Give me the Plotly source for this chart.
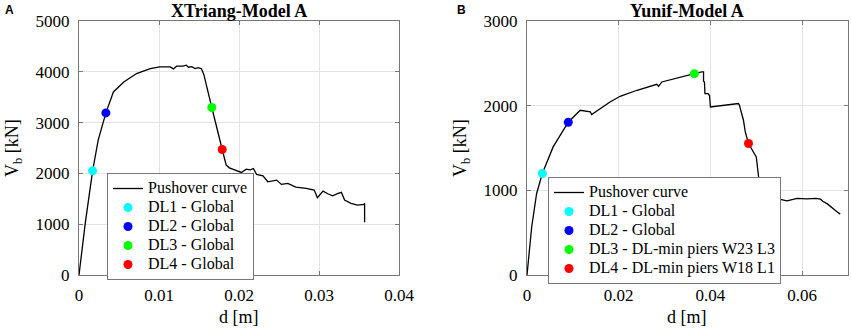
import plotly.graph_objects as go

# ---------------- Data ----------------
# Panel A: XTriang-Model A
a_d = [0, 0.00078, 0.0017, 0.0024, 0.00336, 0.0043, 0.0056, 0.0072, 0.0089, 0.0101,
       0.0114, 0.0118, 0.0122, 0.0130, 0.0134, 0.0137, 0.0141, 0.0145, 0.0149, 0.0153,
       0.0156, 0.0159, 0.0166, 0.0179, 0.0184, 0.0188, 0.0197, 0.0203, 0.0209, 0.0214,
       0.0218, 0.0222, 0.0230, 0.0236, 0.0247, 0.0253, 0.0261, 0.0271, 0.0284, 0.0294,
       0.0298, 0.0305, 0.0311, 0.0317, 0.0323, 0.0328, 0.0332, 0.0340, 0.0348, 0.0356,
       0.0357, 0.0357]
a_v = [0, 1016, 2051, 2654, 3191, 3604, 3801, 3966, 4064, 4096,
       4096, 4057, 4110, 4110, 4129, 4090, 4100, 4064, 4083, 4060,
       3950, 3769, 3297, 2471, 2163, 2110, 2064, 2019, 2084, 2070,
       2097, 1979, 1953, 1835, 1868, 1783, 1803, 1730, 1704, 1671,
       1520, 1652, 1599, 1559, 1600, 1626, 1474, 1409, 1376, 1390,
       1410, 1036]
a_dl_d = [0.0017, 0.00336, 0.0166, 0.0179]
a_dl_v = [2051, 3191, 3297, 2471]
a_dl_names = ["DL1 - Global", "DL2 - Global", "DL3 - Global", "DL4 - Global"]

# Panel B: Yunif-Model A
b_d = [0, 0.00066, 0.00103, 0.0021, 0.00334, 0.0057, 0.0090, 0.0116, 0.0127, 0.0133,
       0.0138, 0.0141, 0.0159, 0.0181, 0.0203, 0.0240, 0.0283, 0.0287, 0.0294, 0.0334,
       0.0365, 0.0381, 0.0385, 0.0385, 0.0387, 0.0388, 0.0395, 0.0398, 0.0399, 0.0400,
       0.0461, 0.0463, 0.0472, 0.0476, 0.0483, 0.0491, 0.0500, 0.0505, 0.0512, 0.0520,
       0.0525, 0.0528, 0.0531, 0.0534, 0.0550, 0.0567, 0.0589, 0.0610, 0.0630, 0.0640,
       0.0645, 0.0655, 0.0662, 0.0676, 0.0683]
b_v = [0, 334, 570, 963, 1199, 1513, 1804, 1946, 1938, 1930,
       1926, 1895, 1966, 2044, 2111, 2182, 2252, 2229, 2280, 2339,
       2378, 2398, 2398, 2290, 2280, 2143, 2143, 2120, 1985, 1985,
       2025, 2010, 1828, 1690, 1553, 1474, 1395, 1159, 1070, 1010,
       982, 845, 943, 923, 895, 876, 904, 900, 906, 895,
       870, 840, 806, 747, 719]
b_dl_d = [0.00334, 0.0090, 0.0365, 0.0483]
b_dl_v = [1199, 1804, 2378, 1553]
b_dl_names = ["DL1 - Global", "DL2 - Global", "DL3 - DL-min piers W23 L3", "DL4 - DL-min piers W18 L1"]

curve_name = "Pushover curve"
dl_colors = ["#00FFFF", "#0000FF", "#00FF00", "#FF0000"]

a_xticks = [0, 0.01, 0.02, 0.03, 0.04]
a_xtext = ["0", "0.01", "0.02", "0.03", "0.04"]
a_yticks = [0, 1000, 2000, 3000, 4000, 5000]
b_xticks = [0, 0.02, 0.04, 0.06]
b_xtext = ["0", "0.02", "0.04", "0.06"]
b_yticks = [0, 1000, 2000, 3000]

titles = ["XTriang-Model A", "Yunif-Model A"]
panel_letters = ["A", "B"]

# ---------------- Figure ----------------
W, H = 851, 330
serif = "Liberation Serif"


def px(sx):
    return sx / W


def py(sy):
    return 1 - sy / H


def leg(t):
    return "<span style='font-size:16px'>%s</span>" % t


fig = go.Figure()

fig.add_trace(go.Scatter(x=a_d, y=a_v, mode="lines", name=leg(curve_name),
                         line=dict(color="black", width=1.3), xaxis="x", yaxis="y",
                         legend="legend"))
for d, v, n, c in zip(a_dl_d, a_dl_v, a_dl_names, dl_colors):
    fig.add_trace(go.Scatter(x=[d], y=[v], mode="markers", name=leg(n),
                             marker=dict(color=c, size=9), xaxis="x", yaxis="y",
                             legend="legend"))

fig.add_trace(go.Scatter(x=b_d, y=b_v, mode="lines", name=leg(curve_name),
                         line=dict(color="black", width=1.3), xaxis="x2", yaxis="y2",
                         legend="legend2"))
for d, v, n, c in zip(b_dl_d, b_dl_v, b_dl_names, dl_colors):
    fig.add_trace(go.Scatter(x=[d], y=[v], mode="markers", name=leg(n),
                             marker=dict(color=c, size=9), xaxis="x2", yaxis="y2",
                             legend="legend2"))

yd = [py(275), py(21)]
axis_common = dict(showgrid=True, gridcolor="#e3e3e3", gridwidth=1,
                   showline=True, linecolor="#777777", linewidth=1, mirror="ticks",
                   ticks="inside", ticklen=4, tickcolor="#777777",
                   tickfont=dict(family=serif, size=17, color="black"),
                   zeroline=False, automargin=False, ticklabelstandoff=5)

legend_common = dict(xanchor="left", yanchor="top",
                     bgcolor="white", bordercolor="#777777", borderwidth=1,
                     font=dict(family=serif, size=11.5, color="black"),
                     itemwidth=30, tracegroupgap=0)

fig.update_layout(
    width=W, height=H,
    margin=dict(l=0, r=0, t=0, b=0, pad=0, autoexpand=False),
    paper_bgcolor="white", plot_bgcolor="white",
    xaxis=dict(domain=[px(79), px(399)], range=[0, 0.04], tickvals=a_xticks,
               ticktext=a_xtext, anchor="y", **axis_common),
    yaxis=dict(domain=yd, range=[0, 5000], tickvals=a_yticks, anchor="x", **axis_common),
    xaxis2=dict(domain=[px(527), px(848)], range=[0, 0.07], tickvals=b_xticks,
                ticktext=b_xtext, anchor="y2", **axis_common),
    yaxis2=dict(domain=yd, range=[0, 3000], tickvals=b_yticks, anchor="x2", **axis_common),
    legend=dict(x=px(107), y=py(173), **legend_common),
    legend2=dict(x=px(548), y=py(177), **legend_common),
    showlegend=True,
)

ann = []
for t, cx in zip(titles, [239, 687]):
    ann.append(dict(text="<b>%s</b>" % t, x=px(cx), y=py(11), xref="paper", yref="paper",
                    showarrow=False, xanchor="center", yanchor="middle",
                    font=dict(family=serif, size=18, color="black")))
for t, lx in zip(panel_letters, [9, 461]):
    ann.append(dict(text="<b>%s</b>" % t, x=px(lx), y=py(10), xref="paper", yref="paper",
                    showarrow=False, xanchor="center", yanchor="middle",
                    font=dict(family="Liberation Sans", size=12, color="black")))
for cx in [239, 687]:
    ann.append(dict(text="d [m]", x=px(cx), y=py(317), xref="paper", yref="paper",
                    showarrow=False, xanchor="center", yanchor="middle",
                    font=dict(family=serif, size=18, color="black")))
for cx in [13, 461]:
    ann.append(dict(text="V<sub>b</sub> [kN]", x=px(cx), y=(yd[0] + yd[1]) / 2,
                    xref="paper", yref="paper", textangle=-90,
                    showarrow=False, xanchor="center", yanchor="middle",
                    font=dict(family=serif, size=18, color="black")))
fig.update_layout(annotations=ann)

# remove the default 8px page margin so the figure sits at the window's top-left corner
fig.write_html("out.html", config={"displayModeBar": False},
               post_script="document.body.style.margin='0px';")
